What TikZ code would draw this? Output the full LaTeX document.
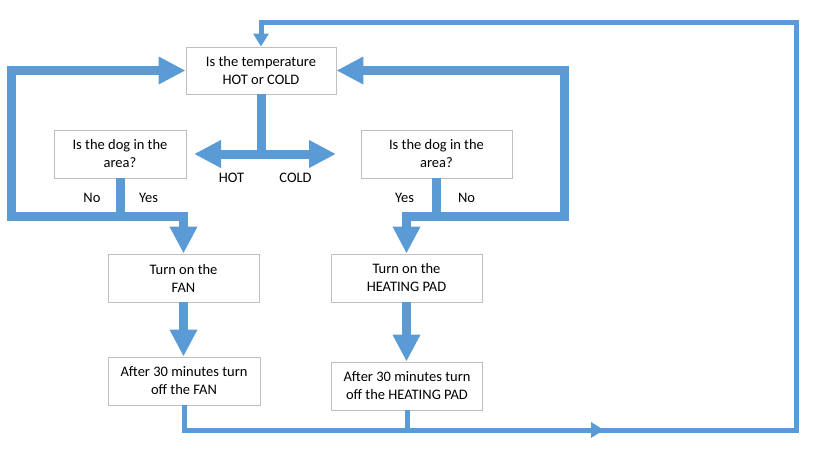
\documentclass[tikz,border=0pt]{standalone}
\usepackage{fontspec}
\setmainfont{Carlito}
\usetikzlibrary{arrows.meta}
\definecolor{flowblue}{HTML}{5B9BD5}
\definecolor{boxgray}{HTML}{BFBFBF}
\begin{document}
\begin{tikzpicture}[x=1pt,y=-1pt,
  every node/.style={font=\fontsize{14.5}{18}\selectfont, inner sep=0pt},
  box/.style={draw=boxgray, line width=0.9pt, fill=white, align=center, minimum height=48pt},
  lbl/.style={anchor=center},
  bighead/.style={-{Triangle[width=26pt,length=27pt]}},
  bigline/.style={draw=flowblue, line width=9pt},
  bigarrow/.style={bigline, bighead},
  bigboth/.style={bigline, {Triangle[width=26pt,length=27pt]}-{Triangle[width=26pt,length=27pt]}},
  thinline/.style={draw=flowblue, line width=5pt},
  thinarrow/.style={thinline, -{Triangle[width=15pt,length=13pt]}}
]
\useasboundingbox (0,0) rectangle (817,455);
% boxes
\node[box, minimum width=150pt, minimum height=47pt] (top) at (261,70.5) {Is the temperature\\HOT or COLD};
\node[box, minimum width=132pt] (dogL) at (120,154) {Is the dog in the\\area?};
\node[box, minimum width=151pt] (dogR) at (436.5,154) {Is the dog in the\\area?};
\node[box, minimum width=151pt] (fan) at (183.5,278) {Turn on the\\FAN};
\node[box, minimum width=151pt] (heat) at (406.5,278) {Turn on the\\HEATING PAD};
\node[box, minimum width=152pt] (afan) at (184,381) {After 30 minutes turn\\off the FAN};
\node[box, minimum width=151pt] (aheat) at (407,386) {After 30 minutes turn\\off the HEATING PAD};
% labels
\node[lbl] (hot) at (231.5,178) {HOT};
\node[lbl] (cold) at (295.5,178) {COLD};
\node[lbl] (noL) at (92,198) {No};
\node[lbl] (yesL) at (148.5,198) {Yes};
\node[lbl] (yesR) at (404.5,198) {Yes};
\node[lbl] (noR) at (466.5,198) {No};
% coordinates
\coordinate (hl) at (194,154);
\coordinate (hr) at (336,154);
\coordinate (lc) at (11.5,216);
\coordinate (rc) at (564.5,216);
\coordinate (mid) at (604,430);
\coordinate (midb) at (592,430);
\coordinate (tr) at (796,22);
% HOT / COLD
\draw[bigline] (top.south) -- (top.south |- hl);
\draw[bigboth] (hl) -- (hr);
% left decision
\draw[bigarrow] (dogL.south) |- (lc) |- (top.west);
\draw[bigarrow] (dogL.south |- lc) -| (fan.north);
% right decision
\draw[bigarrow] (dogR.south) |- (rc) |- (top.east);
\draw[bigarrow] (dogR.south |- rc) -| (heat.north);
% actions
\draw[bigarrow] (fan.south) -- (fan.south |- afan.north);
\draw[bigarrow] (heat.south) -- (heat.south |- aheat.north);
% return loop
\draw[thinline] (aheat.south) -- (aheat.south |- mid);
\draw[thinarrow] (afan.south) |- (mid);
\draw[thinarrow] (midb) -| (tr) -| (top.north);
\end{tikzpicture}
\end{document}
